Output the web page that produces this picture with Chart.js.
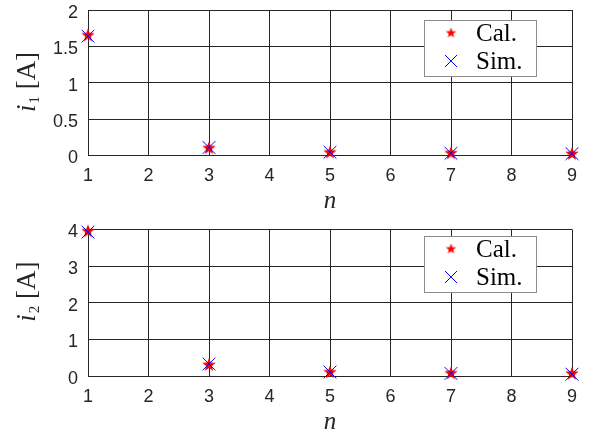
<!DOCTYPE html>
<html>
<head>
<meta charset="utf-8">
<script src="https://cdn.jsdelivr.net/npm/chart.js@4.4.1/dist/chart.umd.min.js"></script>
<style>
  html, body { margin: 0; padding: 0; background: #fff; }
  .sub { position: absolute; left: 0; width: 589px; height: 216px; }
</style>
</head>
<body>
<div class="sub" style="top:0"><canvas id="chartI1"></canvas></div>
<div class="sub" style="top:216px"><canvas id="chartI2"></canvas></div>
<script>
// Armónicos y corrientes (calculadas / simuladas)
const armonicos = [1, 3, 5, 7, 9];
const i1Cal = [1.65, 0.10, 0.04, 0.03, 0.02];
const i1Sim = [1.64, 0.11, 0.045, 0.03, 0.025];
const i2Cal = [3.95, 0.30, 0.10, 0.07, 0.06];
const i2Sim = [3.93, 0.33, 0.11, 0.07, 0.05];
const ticksX = [1, 2, 3, 4, 5, 6, 7, 8, 9];
const leyenda = ["Cal.", "Sim."];

const GRIS = "#262626";

// Estrella de cinco puntas rellena (marcador tipo pentagram)
function estrella(r) {
  const c = document.createElement("canvas");
  const s = Math.ceil(r * 2 + 2);
  c.width = c.height = s;
  const g = c.getContext("2d");
  g.fillStyle = "#ff0000";
  g.beginPath();
  for (let k = 0; k < 10; k++) {
    const rad = k % 2 ? r * 0.42 : r;
    const a = -Math.PI / 2 + (k * Math.PI) / 5;
    g.lineTo(s / 2 + rad * Math.cos(a), s / 2 + rad * Math.sin(a));
  }
  g.closePath();
  g.fill();
  return c;
}
const estrellaGrande = estrella(7);
const estrellaChica = estrella(5.5);

const puntos = (ys) => armonicos.map((n, i) => ({ x: n, y: ys[i] }));

// Etiquetas de ejes y leyenda dibujadas a mano
function decorar(sub, centroY) {
  return {
    id: "decorar",
    afterDraw(chart) {
      const ctx = chart.ctx;
      const a = chart.chartArea;
      ctx.save();
      // Leyenda
      const lx = 424.5, ly = 20.5, lw = 112, lh = 56;
      ctx.fillStyle = "#fff";
      ctx.fillRect(lx, ly, lw, lh);
      ctx.strokeStyle = "#8c8c8c";
      ctx.lineWidth = 1;
      ctx.strokeRect(lx, ly, lw, lh);
      ctx.drawImage(estrellaChica, 451 - estrellaChica.width / 2, 33 - estrellaChica.height / 2);
      ctx.strokeStyle = "#0000ff";
      ctx.beginPath();
      ctx.moveTo(445, 55); ctx.lineTo(457, 67);
      ctx.moveTo(457, 55); ctx.lineTo(445, 67);
      ctx.stroke();
      ctx.fillStyle = "#000";
      ctx.font = "25px 'Liberation Serif'";
      ctx.textBaseline = "middle";
      ctx.textAlign = "left";
      ctx.fillText(leyenda[0], 476, 34);
      ctx.fillText(leyenda[1], 476, 62);

      // Etiqueta eje x
      ctx.fillStyle = GRIS;
      ctx.font = "italic 25px 'Liberation Serif'";
      ctx.textAlign = "center";
      ctx.fillText("n", (a.left + a.right) / 2, a.bottom + 46);

      // Etiqueta eje y: i con subíndice y unidad
      ctx.translate(26, centroY);
      ctx.rotate(-Math.PI / 2);
      const f1 = "italic 27px 'Liberation Serif'";
      const f2 = "15px 'Liberation Serif'";
      const f3 = "27px 'Liberation Serif'";
      ctx.font = f1; const w1 = ctx.measureText("i").width + 1;
      ctx.font = f2; const w2 = ctx.measureText(sub).width;
      ctx.font = f3; const w3 = ctx.measureText(" [A]").width;
      let x = -(w1 + w2 + w3) / 2;
      ctx.textAlign = "left";
      ctx.textBaseline = "alphabetic";
      ctx.font = f1; ctx.fillText("i", x, 9); x += w1;
      ctx.font = f2; ctx.fillText(sub, x, 13); x += w2;
      ctx.font = f3; ctx.fillText(" [A]", x, 9);
      ctx.restore();
    },
  };
}

function crearGrafico(id, cal, sim, yMax, yPaso, sub, arriba, abajo, centroY) {
  return new Chart(document.getElementById(id), {
    type: "scatter",
    data: {
      datasets: [
        {
          label: leyenda[1],
          data: puntos(sim),
          pointStyle: "crossRot",
          pointRadius: 9,
          pointBorderWidth: 1,
          borderColor: "#0000ff",
          backgroundColor: "#0000ff",
          clip: false,
          order: 0,
        },
        {
          label: leyenda[0],
          data: puntos(cal),
          pointStyle: estrellaGrande,
          clip: false,
          order: 1,
        },
      ],
    },
    options: {
      responsive: true,
      maintainAspectRatio: false,
      animation: false,
      layout: { padding: { left: 0, right: 17, top: arriba, bottom: 0 } },
      plugins: { legend: { display: false }, tooltip: { enabled: false } },
      scales: {
        x: {
          type: "linear",
          min: 1,
          max: 9,
          afterBuildTicks: (s) => { s.ticks = ticksX.map((v) => ({ value: v })); },
          ticks: {
            color: GRIS,
            font: { family: "'Liberation Sans'", size: 18 },
            padding: 10,
            maxRotation: 0,
          },
          grid: { color: GRIS, lineWidth: 1, drawTicks: false },
          border: { color: GRIS, width: 1 },
          afterFit: (s) => {
            s.height = abajo;
            s.paddingLeft = 0; s.paddingRight = 0;
          },
        },
        y: {
          min: 0,
          max: yMax,
          ticks: {
            stepSize: yPaso,
            color: GRIS,
            font: { family: "'Liberation Sans'", size: 18 },
            padding: 10,
            labelOffset: 3,
            callback: (v) => String(v),
          },
          grid: { color: GRIS, lineWidth: 1, drawTicks: false },
          border: { color: GRIS, width: 1 },
          afterFit: (s) => {
            s.width = 88;
            s.paddingTop = 0; s.paddingBottom = 0;
          },
        },
      },
    },
    plugins: [decorar(sub, centroY)],
  });
}

crearGrafico("chartI1", i1Cal, i1Sim, 2, 0.5, "1", 8.5, 60.5, 82);
crearGrafico("chartI2", i2Cal, i2Sim, 4, 1, "2", 13.5, 56, 75.7);
</script>
</body>
</html>
